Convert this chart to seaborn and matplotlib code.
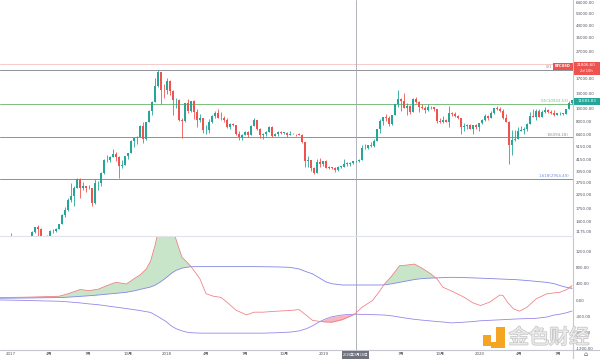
import matplotlib
matplotlib.use("Agg")
import matplotlib.pyplot as plt
import matplotlib.patheffects as pe
from matplotlib.patches import Rectangle
from matplotlib.lines import Line2D
from matplotlib.ticker import NullLocator, NullFormatter
import numpy as np
import pandas as pd
import seaborn as sns

# ---------------- data ----------------
first_week = "2017-01-02"       # weekly candles, week index 0
first_open = 963.0
close = [
    908, 820, 920, 915, 1015, 1000, 1050, 1175, 1270, 1230,
    1020, 960, 1080, 1190, 1180, 1240, 1350, 1560, 1720, 2050,
    2200, 2520, 2950, 2510, 2600, 2500, 2510, 1930, 2750, 2750,
    3250, 4070, 4090, 4350, 4590, 4330, 3680, 3770, 4400, 4600,
    5700, 6000, 6150, 7400, 5900, 8000, 9700, 11250, 15000, 19000,
    13900, 13880, 16200, 13600, 11600, 11700, 8200, 8100, 11000, 9600,
    11400, 9500, 8200, 8500, 6900, 6900, 8000, 8900, 9300, 8600,
    8500, 8200, 7350, 7650, 7500, 6500, 6150, 6350, 6700, 6350,
    7400, 8200, 7000, 6300, 6400, 6700, 7300, 6250, 6500, 6700,
    6600, 6600, 6300, 6400, 6450, 6400, 6350, 5600, 4000, 4100,
    3550, 3250, 3950, 3850, 4050, 3550, 3600, 3550, 3450, 3650,
    3650, 3850, 3850, 3900, 4000, 4000, 4100, 5050, 5050, 5300,
    5200, 5750, 7000, 8150, 8700, 8550, 7650, 8950, 10800, 11900,
    11400, 10200, 10500, 9500, 11800, 11300, 10300, 10150, 9750, 10400,
    10300, 10000, 8050, 7900, 8300, 7950, 9250, 9200, 8800, 8500,
    7300, 7450, 7500, 7100, 7500, 7250, 7750, 8200, 8900, 8600,
    9350, 10150, 9900, 9700, 8550, 8000, 5350, 5800, 5900, 6850,
    6900, 7100, 7700, 8900, 8750, 9700, 8700, 9450, 9750, 9450,
    9300, 9000, 9250, 9250, 9200, 9950, 11100, 11683.83,
]
high = [
    1150, 910, 935, 925, 1040, 1070, 1060, 1190, 1280, 1330,
    1260, 1080, 1100, 1210, 1220, 1260, 1350, 1600, 1800, 2100,
    2760, 2600, 2990, 2980, 2800, 2620, 2650, 2530, 2920, 2850,
    3300, 4200, 4480, 4400, 4980, 4700, 4400, 4100, 4400, 4620,
    5850, 6000, 6200, 7600, 7900, 8000, 9750, 11400, 17200, 19666,
    19000, 15500, 17250, 16500, 13800, 12000, 11800, 8600, 11000, 11800,
    11500, 11700, 9900, 9200, 8500, 7500, 8400, 9000, 9700, 9950,
    9400, 8900, 8500, 7800, 7750, 7500, 6850, 6500, 6800, 6800,
    7550, 8500, 8250, 7150, 6600, 6800, 7400, 7400, 6600, 6800,
    6800, 6700, 6700, 6800, 6600, 6500, 6550, 6450, 5600, 4400,
    4100, 3600, 4200, 4250, 4050, 4100, 3700, 3650, 3600, 3700,
    3700, 4200, 3950, 3950, 4000, 4050, 4150, 5300, 5450, 5350,
    5650, 5900, 7100, 8400, 8700, 9100, 8800, 9000, 10950, 13880,
    12100, 13200, 11100, 10700, 12000, 12300, 11450, 10950, 10600, 10950,
    10450, 10350, 10050, 8500, 8800, 8400, 10500, 9500, 9500, 9050,
    8550, 7850, 7700, 7650, 7500, 7700, 7850, 8450, 9200, 8950,
    9600, 10150, 10500, 10300, 9950, 9200, 8150, 6900, 6950, 7300,
    7450, 7250, 7800, 9450, 10050, 10000, 9900, 9750, 10400, 10000,
    9750, 9800, 9300, 9450, 9300, 9950, 11450, 11700,
]
low = [
    880, 750, 815, 880, 910, 940, 990, 1050, 1140, 1000,
    940, 890, 940, 1060, 1150, 1170, 1230, 1340, 1530, 1690,
    1980, 1850, 2500, 2100, 2450, 2330, 2480, 1840, 1900, 2450,
    2620, 3200, 3950, 3950, 4320, 4000, 2970, 3550, 3750, 4150,
    4600, 5100, 5400, 6100, 5500, 5850, 7950, 9000, 11200, 14700,
    10800, 12000, 13000, 12800, 9000, 10100, 8100, 6000, 8000, 9300,
    9500, 8400, 7300, 7900, 6600, 6500, 6600, 7800, 8600, 8500,
    8300, 7900, 7200, 7050, 7400, 6300, 5800, 5800, 6300, 6100,
    6300, 7400, 6900, 6000, 5900, 6250, 6700, 6150, 6200, 6250,
    6450, 6500, 6150, 6300, 6400, 6250, 6300, 5500, 3650, 3600,
    3400, 3200, 3250, 3600, 3700, 3550, 3500, 3500, 3350, 3400,
    3550, 3650, 3700, 3700, 3800, 3950, 3950, 4100, 4950, 5000,
    5100, 5150, 5700, 6600, 7500, 8100, 7450, 7550, 8950, 10300,
    9600, 10100, 9050, 9100, 9400, 11150, 9450, 9900, 9320, 9700,
    9900, 9600, 7800, 7750, 7800, 7900, 7300, 8900, 8700, 8400,
    6500, 6850, 7100, 7000, 6450, 7050, 6850, 7700, 8100, 8250,
    8550, 9150, 9800, 9400, 8450, 8000, 3850, 4450, 5700, 5900,
    6750, 6500, 6800, 7650, 8700, 8200, 8800, 8650, 9250, 9250,
    9200, 8900, 8950, 9050, 9050, 9150, 9900, 10950,
]

# fibonacci levels
fib_values = [19666.0, 10943.53, 6094.18, 2954.49]
fib_labels = ["0(1", "0.5(10943.53)", "1(6094.18)", "1.618(2954.49)"]
fib_colors = ["#8f9197", "#7cc07f", "#8f9197", "#6f8fe3"]
symbol_price = 21806.60
last_price = 11683.83

price_ticks = [64000, 53000, 43000, 35000, 27000, 17000, 13000, 10000, 8000,
               6400, 5150, 4150, 3350, 2750, 2250, 1750, 1400, 1175]
osc_ticks = [1200, 800, 400, 0, -400, -800, -1200]

# oscillator with bands (week index, value)
osc_week = [-3.7, 5, 10, 16, 19, 23, 26, 29, 32, 35, 38.5, 41, 43, 45, 46.5, 48,
            49.5, 51.5, 53.5, 55, 57, 58.5, 60, 63, 65, 67.5, 70, 72, 75, 78.5, 81,
            84, 88.5, 93, 96, 98.5, 100.5, 103, 105, 107, 110.5, 114.5, 117, 120.5,
            123, 124.5, 127, 129.5, 132, 134.5, 137, 140, 142, 144, 146.5, 149, 151,
            154, 156.5, 159.5, 163, 164, 165.5, 167.5, 169.5, 172, 175, 178.5, 181,
            183, 185.3, 187]
osc_line = [66, 75, 85, 98, 160, 263, 238, 270, 361, 442, 400, 530, 621, 760, 960,
            1350, 1850, 2050, 1850, 1500, 1055, 950, 830, 523, 160, 98, 70, -50,
            -245, -361, -294, -294, -270, -253, -230, -375, -495, -523, -535, -540,
            -476, -345, -172, -7, 238, 400, 606, 850, 866, 890, 790, 645, 523, 319,
            238, 150, 74, -66, -130, -49, 130, 115, -49, -213, -270, -172, 32, 155,
            180, 196, 263, 361]
upper_band = [49, 55, 60, 66, 75, 95, 110, 128, 150, 170, 196, 230, 265, 300, 325,
              370, 435, 540, 665, 735, 790, 810, 825, 827, 827, 827, 827, 827, 827,
              827, 827, 825, 820, 810, 770, 700, 650, 540, 450, 405, 375, 375, 375,
              375, 375, 378, 405, 440, 475, 510, 532, 545, 550, 557, 564, 562, 558,
              550, 543, 535, 523, 520, 515, 510, 500, 485, 465, 440, 410, 361, 315, 290]
lower_band = [7, -5, -15, -25, -40, -65, -90, -110, -140, -170, -205, -232, -255,
              -280, -300, -360, -425, -515, -635, -700, -755, -785, -800, -810, -810,
              -810, -810, -810, -810, -810, -810, -810, -800, -785, -755, -700, -630,
              -523, -455, -405, -362, -344, -348, -355, -360, -365, -385, -415, -445,
              -470, -490, -510, -525, -535, -557, -550, -540, -525, -505, -495, -482,
              -478, -473, -465, -458, -452, -445, -415, -365, -345, -305, -265]

tick_dates = ["2017-01-01", "2017-04-01", "2017-07-01", "2017-10-01", "2018-01-01",
              "2018-04-01", "2018-07-01", "2018-10-01", "2019-01-01", "2019-07-01",
              "2019-10-01", "2020-01-01", "2020-04-01", "2020-07-01"]
tick_labels = ["2017", "4月", "7月", "10月", "2018", "4月", "7月", "10月", "2019",
               "7月", "10月", "2020", "4月", "7月"]
crosshair_date = "2019-03-18"
crosshair_label = "2019年3月18日"

# ---------------- style ----------------
sns.set_theme(style="white")
plt.rcParams["font.family"] = ["DejaVu Sans", "Noto Sans CJK SC"]
UP, DOWN = "#26a69a", "#ef5350"
TXT = "#50535e"
FS = 2.9

W, H = 600, 359
fig = plt.figure(figsize=(6, 3.59), dpi=100)
fig.patch.set_facecolor("white")


def fx(px):
    return px / W


def fy(py):
    return 1 - py / H


def week_of(d):
    return (pd.Timestamp(d) - pd.Timestamp(first_week)).days / 7.0


ax1 = fig.add_axes([0, fy(236), fx(573), 236 / H])
ax2 = fig.add_axes([0, fy(350), fx(573), (350 - 236) / H], sharex=ax1)

# ---------------- candles ----------------
c = np.array(close, dtype=float)
o = np.array([first_open] + close[:-1], dtype=float)
hi = np.maximum(np.array(high, dtype=float), np.maximum(o, c))
lo = np.minimum(np.array(low, dtype=float), np.minimum(o, c))
weeks = np.arange(len(c))
cols = [UP if cc >= oo else DOWN for oo, cc in zip(o, c)]

ax1.set_yscale("log")
ax1.vlines(weeks, lo, hi, colors=cols, linewidth=0.6, zorder=3)
bot = np.minimum(o, c)
top = np.maximum(np.maximum(o, c), bot * 1.006)
ax1.bar(weeks, top - bot, bottom=bot, width=0.62, color=cols, linewidth=0, zorder=4)

# horizontal levels
ax1.axhline(symbol_price, color="#f6caca", lw=0.7, zorder=1)
for v, lab, col in zip(fib_values, fib_labels, fib_colors):
    ax1.axhline(v, color=col, lw=0.7, zorder=2)
    if lab != "0(1":
        ax1.text(186.0, v * 1.012, lab, ha="right", va="bottom", fontsize=FS, color=col, zorder=5)
ax1.text(180.3, fib_values[0] * 1.012, fib_labels[0],
         ha="right", va="bottom", fontsize=FS, color=fib_colors[0], zorder=5)

xc = week_of(crosshair_date)
ax1.axvline(xc, color="#a3a6af", lw=0.6, zorder=2)
ax2.axvline(xc, color="#a3a6af", lw=0.6, zorder=2)

ax1.set_xlim(-3.67, 187.33)
ax1.set_ylim(1089, 66800)
ax1.yaxis.tick_right()
ax1.set_yticks(price_ticks)
ax1.set_yticklabels([f"{t:.2f}" for t in price_ticks])
ax1.yaxis.set_minor_locator(NullLocator())
ax1.yaxis.set_minor_formatter(NullFormatter())
ax1.tick_params(axis="y", length=0, pad=2.2, labelsize=FS, labelcolor=TXT)
ax1.tick_params(axis="x", bottom=False, labelbottom=False)

# ---------------- oscillator ----------------
df = pd.DataFrame({"week": osc_week, "osc": osc_line,
                   "upper": upper_band, "lower": lower_band})
ax2.fill_between(df["week"], df["osc"], df["upper"], where=df["osc"] > df["upper"],
                 interpolate=True, color="#c3e3c4", alpha=0.9, lw=0, zorder=1)
ax2.fill_between(df["week"], df["osc"], df["lower"], where=df["osc"] < df["lower"],
                 interpolate=True, color="#f7adb6", alpha=0.9, lw=0, zorder=1)
sns.lineplot(data=df, x="week", y="upper", ax=ax2, color="#8285e6", lw=0.6, zorder=3)
sns.lineplot(data=df, x="week", y="lower", ax=ax2, color="#9a86e8", lw=0.6, zorder=3)
sns.lineplot(data=df, x="week", y="osc", ax=ax2, color="#ef7b80", lw=0.55, zorder=4)
ax2.set_xlabel("")
ax2.set_ylabel("")
ax2.set_ylim(-1225, 1581)
ax2.yaxis.tick_right()
ax2.set_yticks(osc_ticks)
ax2.set_yticklabels([f"{t:.2f}" for t in osc_ticks])
ax2.tick_params(axis="y", length=0, pad=2.2, labelsize=FS, labelcolor=TXT)
ax2.set_xticks([week_of(d) for d in tick_dates])
ax2.set_xticklabels(tick_labels)
ax2.tick_params(axis="x", length=0, pad=1.6, labelsize=FS, labelcolor=TXT)
ax1.set_xlim(-3.67, 187.33)

for ax in (ax1, ax2):
    for s in ax.spines.values():
        s.set_visible(False)

# ---------------- frame lines ----------------
fig.add_artist(Line2D([fx(573), fx(573)], [fy(0), fy(359)], color="#c4c7cf", lw=0.8))
fig.add_artist(Line2D([0, fx(573)], [fy(236), fy(236)], color="#e0e3eb", lw=0.8))
fig.add_artist(Line2D([0, 1], [fy(350), fy(350)], color="#c4c7cf", lw=0.8))

# ---------------- price label boxes ----------------
def box(x0, y0, x1, y1, color):
    fig.add_artist(Rectangle((fx(x0), fy(y1)), fx(x1) - fx(x0), fy(y0) - fy(y1),
                             facecolor=color, edgecolor="none", zorder=6))

box(553, 62.5, 572.5, 69.5, DOWN)
fig.text(fx(562.7), fy(66), "BTCUSD", ha="center", va="center", fontsize=2.5,
         color="white", weight="bold", zorder=7)
box(573.5, 62, 600, 75, DOWN)
fig.text(fx(586.5), fy(65.5), f"{symbol_price:.2f}", ha="center", va="center",
         fontsize=FS, color="white", zorder=7)
fig.text(fx(586.5), fy(71.5), "2d 10h", ha="center", va="center", fontsize=2.6,
         color="white", zorder=7)
box(573.5, 97.5, 600, 104.5, UP)
fig.text(fx(586.5), fy(101), f"{last_price:.2f}", ha="center", va="center",
         fontsize=FS, color="white", zorder=7)

# crosshair date label
box(342, 351, 369, 359, "#6f727c")
fig.text(fx(355.5), fy(355), crosshair_label, ha="center", va="center",
         fontsize=2.7, color="white", family=["Noto Sans CJK SC", "DejaVu Sans"], zorder=7)
fig.text(fx(586), fy(354.5), "\u2302", ha="center", va="center", fontsize=4.5,
         color=TXT, zorder=7)

# ---------------- watermark ----------------
orange = "#f3a523"
box(483, 335, 491, 346, orange)
box(496, 327, 505, 348, orange)
box(491, 342, 496, 348, orange)
fig.text(fx(549), fy(338), "金色财经", ha="center", va="center", fontsize=14.5,
         color="#f2f2f2", family=["Noto Sans CJK SC"], zorder=7, alpha=0.9,
         path_effects=[pe.withStroke(linewidth=1.2, foreground="#c2c2c2")])

fig.savefig("out.png", dpi=100)
